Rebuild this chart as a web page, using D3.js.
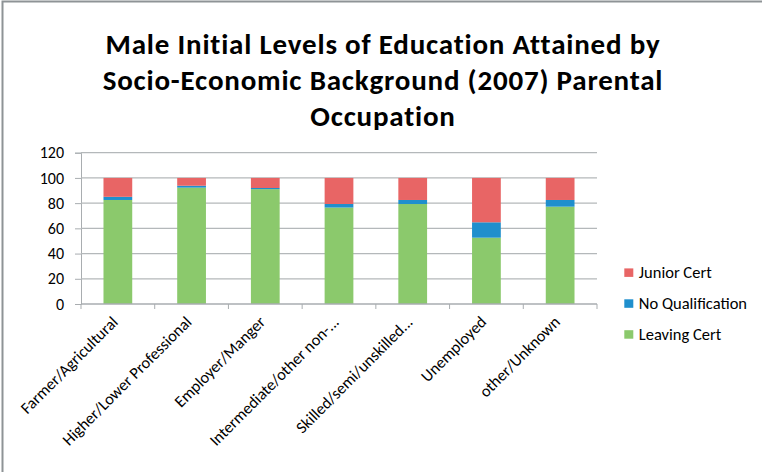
<!DOCTYPE html>
<html>
<head>
<meta charset="utf-8">
<script src="https://cdn.jsdelivr.net/npm/d3@7"></script>
<style>
    html, body { margin: 0; background: #fff; overflow: hidden; }
    svg { display: block; }
    svg text { font-family: Carlito, Lato, "Open Sans", sans-serif; fill: #000; }
</style>
</head>
<body>
<div id="chart"></div>
<script>
var categories = ["Farmer/Agricultural", "Higher/Lower Professional", "Employer/Manger",
    "Intermediate/other non-...", "Skilled/semi/unskilled...", "Unemployed", "other/Unknown"];
var leavingCert = [82.5, 92.3, 91.1, 76.5, 79.3, 52.6, 77.2];
var noQualification = [2.5, 1.5, 0.9, 2.8, 3.2, 12.2, 5.3];
var juniorCert = [15.0, 6.2, 8.0, 20.7, 17.5, 35.2, 17.5];
var yTicks = [0, 20, 40, 60, 80, 100, 120];
var titleLines = ["Male Initial Levels of Education Attained by",
    "Socio-Economic Background (2007) Parental", "Occupation"];

var keys = ["Leaving Cert", "No Qualification", "Junior Cert"];
var colors = {"Leaving Cert": "#8bc96c", "No Qualification": "#1f8fcd", "Junior Cert": "#e86565"};

var W = 762, H = 472;
var margin = {top: 152.7, left: 81};
var width = 516, height = 304 - margin.top;

var rows = categories.map(function (c, i) {
    return {cat: c, "Leaving Cert": leavingCert[i], "No Qualification": noQualification[i], "Junior Cert": juniorCert[i]};
});

var svg = d3.select("#chart").append("svg")
    .attr("width", W)
    .attr("height", H);

// outer frame, only the top and left edges show
svg.append("path")
    .attr("d", "M2.5," + H + "V1.5H" + W)
    .attr("fill", "none")
    .attr("stroke", "#8e9396")
    .attr("stroke-width", 2);

svg.append("g").selectAll("text")
    .data(titleLines)
    .enter().append("text")
    .attr("x", 383)
    .attr("y", function (d, i) { return 54 + i * 36; })
    .attr("text-anchor", "middle")
    .style("font-size", "29px")
    .style("font-weight", "bold")
    .style("letter-spacing", "0.8px")
    .text(function (d) { return d; });

var g = svg.append("g")
    .attr("transform", "translate(" + margin.left + "," + margin.top + ")");

var x = d3.scaleBand().domain(categories).range([0, width]).paddingInner(0.61).paddingOuter(0.305);
var xb = d3.scaleBand().domain(categories).range([0, width]);
var y = d3.scaleLinear().domain([0, 120]).range([height, 0]);

// y axis
var yAxis = d3.axisLeft(y).tickValues(yTicks).tickSize(6).tickPadding(11);
var ya = g.append("g").call(yAxis);
ya.select(".domain").attr("stroke", "#a9adb0");
ya.selectAll(".tick line").attr("stroke", "#a9adb0");
ya.selectAll(".tick text").style("font-size", "16px").attr("fill", "#000");

// gridlines
g.append("g").selectAll("line")
    .data(yTicks.filter(function (d) { return d > 0; }))
    .enter().append("line")
    .attr("x1", 0).attr("x2", width)
    .attr("y1", function (d) { return y(d); })
    .attr("y2", function (d) { return y(d); })
    .attr("stroke", "#b4b8ba")
    .attr("stroke-width", 1.3);

var layers = d3.stack().keys(keys)(rows);

g.append("g").selectAll("g")
    .data(layers)
    .enter().append("g")
    .attr("fill", function (d) { return colors[d.key]; })
    .selectAll("rect")
    .data(function (d) { return d; })
    .enter().append("rect")
    .attr("x", function (d) { return x(d.data.cat); })
    .attr("y", function (d) { return y(d[1]); })
    .attr("width", x.bandwidth())
    .attr("height", function (d) { return y(d[0]) - y(d[1]); });

// x axis, ticks on category boundaries
var xa = g.append("g").attr("transform", "translate(0," + height + ")");
xa.append("line").attr("x1", 0).attr("x2", width).attr("stroke", "#a9adb0").attr("stroke-width", 1.3);
xa.selectAll(".bt")
    .data(d3.range(categories.length + 1))
    .enter().append("line")
    .attr("class", "bt")
    .attr("x1", function (i) { return i * xb.step(); })
    .attr("x2", function (i) { return i * xb.step(); })
    .attr("y1", 0).attr("y2", 5)
    .attr("stroke", "#a9adb0");

xa.selectAll(".lbl")
    .data(categories)
    .enter().append("text")
    .attr("class", "lbl")
    .attr("text-anchor", "end")
    .attr("transform", function (d) {
        return "translate(" + (xb(d) + xb.bandwidth() / 2 + 1) + ",19) rotate(-45)";
    })
    .style("font-size", "16.3px")
    .text(function (d) { return d; });

// legend
var legendKeys = ["Junior Cert", "No Qualification", "Leaving Cert"];
var legend = svg.append("g").selectAll("g")
    .data(legendKeys)
    .enter().append("g")
    .attr("transform", function (d, i) { return "translate(624.3," + (268.4 + i * 30.9) + ")"; });
legend.append("rect")
    .attr("width", 9).attr("height", 8.5)
    .attr("fill", function (d) { return colors[d]; });
legend.append("text")
    .attr("x", 14.5).attr("y", 10)
    .style("font-size", "16.5px")
    .text(function (d) { return d; });
</script>
</body>
</html>
